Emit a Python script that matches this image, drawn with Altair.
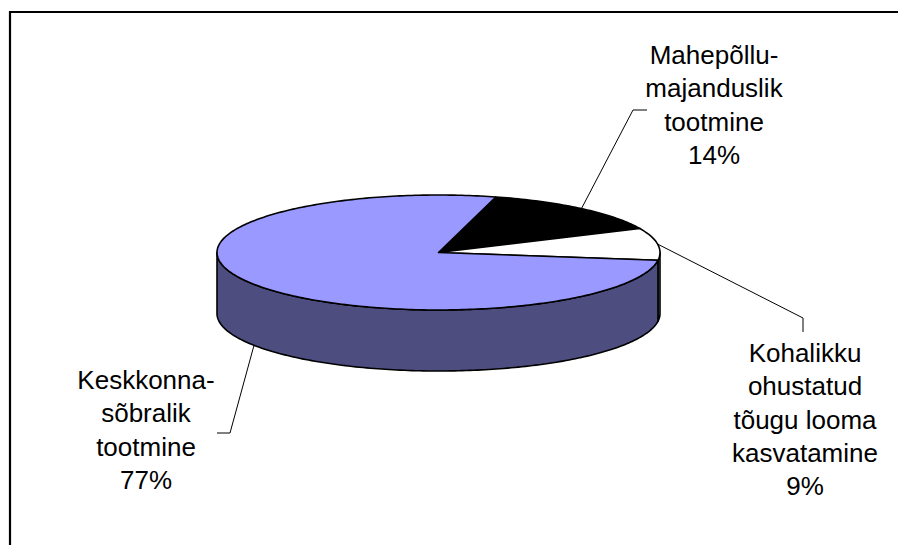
import math
import altair as alt

# ---- data ----
categories = [
    "Mahepõllumajanduslik tootmine",
    "Kohalikku ohustatud tõugu looma kasvatamine",
    "Keskkonnasõbralik tootmine",
]
label_lines = [
    ["Mahepõllu-", "majanduslik", "tootmine"],
    ["Kohalikku", "ohustatud", "tõugu looma", "kasvatamine"],
    ["Keskkonna-", "sõbralik", "tootmine"],
]
shares = [14, 9, 77]
top_colors = ["#000000", "#FFFFFF", "#9999FF"]
side_colors = ["#000000", "#A6A6A6", "#4D4D80"]

# ---- layout (page pixel coordinates) ----
CX, CY, RX, RY, DEPTH = 438.5, 252.5, 221.5, 57.5, 61
START_ANGLE = 15.0  # degrees clockwise from 12 o'clock
label_anchor = [(714, 64), (805, 362), (146, 389)]
elbows = [[(633, 110), (647, 110)], [(803, 318), (803, 332)], [(230, 433), (217, 433)]]


def rim(theta, dy=0.0):
    r = math.radians(theta)
    return [CX + RX * math.sin(r), CY - RY * math.cos(r) + dy]


def arc(a, b, dy=0.0):
    n = max(2, int(abs(b - a)) + 1)
    return [rim(a + (b - a) * i / (n - 1), dy) for i in range(n)]


total = sum(shares)
bounds = []
acc = START_ANGLE
for s in shares:
    span = 360.0 * s / total
    bounds.append((acc, acc + span))
    acc += span

features = []
# side walls (front half only: 90..270 deg)
for (a, b), col in zip(bounds, side_colors):
    for shift in (0, 360, -360):
        lo, hi = max(a, 90 + shift), min(b, 270 + shift)
        if hi > lo:
            ring = arc(lo, hi) + arc(hi, lo, DEPTH)
            ring.append(ring[0])
            features.append({"type": "Feature", "properties": {"fill": col},
                             "geometry": {"type": "Polygon", "coordinates": [ring]}})
# top faces
for (a, b), col in zip(bounds, top_colors):
    ring = [[CX, CY]] + arc(a, b) + [[CX, CY]]
    features.append({"type": "Feature", "properties": {"fill": col},
                     "geometry": {"type": "Polygon", "coordinates": [ring]}})

# leader lines start at the mid-angle rim point (dropped to base if front-facing)
leaders = []
for (a, b), el in zip(bounds, elbows):
    mid = (a + b) / 2.0
    m = mid % 360
    dy = DEPTH if 100 < m < 260 else 0.0
    p0 = rim(mid, dy)
    leaders.append({"type": "Feature", "properties": {},
                    "geometry": {"type": "LineString",
                                 "coordinates": [p0] + [list(p) for p in el]}})

frame = [{"type": "Feature", "properties": {},
          "geometry": {"type": "LineString",
                       "coordinates": [[10, 600], [10, 12], [960, 12]]}}]

labels = []
for lines, s, (x, y) in zip(label_lines, shares, label_anchor):
    labels.append({"lon": x, "lat": y, "text": "\n".join(lines + [f"{s}%"])})

proj = alt.Projection(type="identity", scale=1, translate=[-8, -8])

frame_layer = alt.Chart(alt.Data(values=frame)).mark_geoshape(
    filled=False, stroke="black", strokeWidth=2.2
).project(**proj.to_dict())

pie_layer = alt.Chart(alt.Data(values=features)).mark_geoshape(
    stroke="black", strokeWidth=1.6, strokeJoin="round"
).encode(
    fill=alt.Fill("properties.fill:N", scale=None)
).project(**proj.to_dict())

leader_layer = alt.Chart(alt.Data(values=leaders)).mark_geoshape(
    filled=False, stroke="black", strokeWidth=1
).project(**proj.to_dict())

text_layer = alt.Chart(alt.Data(values=labels)).mark_text(
    font="Liberation Sans", fontSize=26, lineHeight=33.3, lineBreak="\n",
    align="center", baseline="alphabetic", color="black"
).encode(
    longitude="lon:Q", latitude="lat:Q", text="text:N"
).project(**proj.to_dict())

chart = alt.layer(frame_layer, pie_layer, leader_layer, text_layer).properties(
    width=890, height=537, padding=0, autosize="none", background="white"
).configure_view(stroke=None)

chart.save("out.html", embed_options={"renderer": "svg", "actions": False})
